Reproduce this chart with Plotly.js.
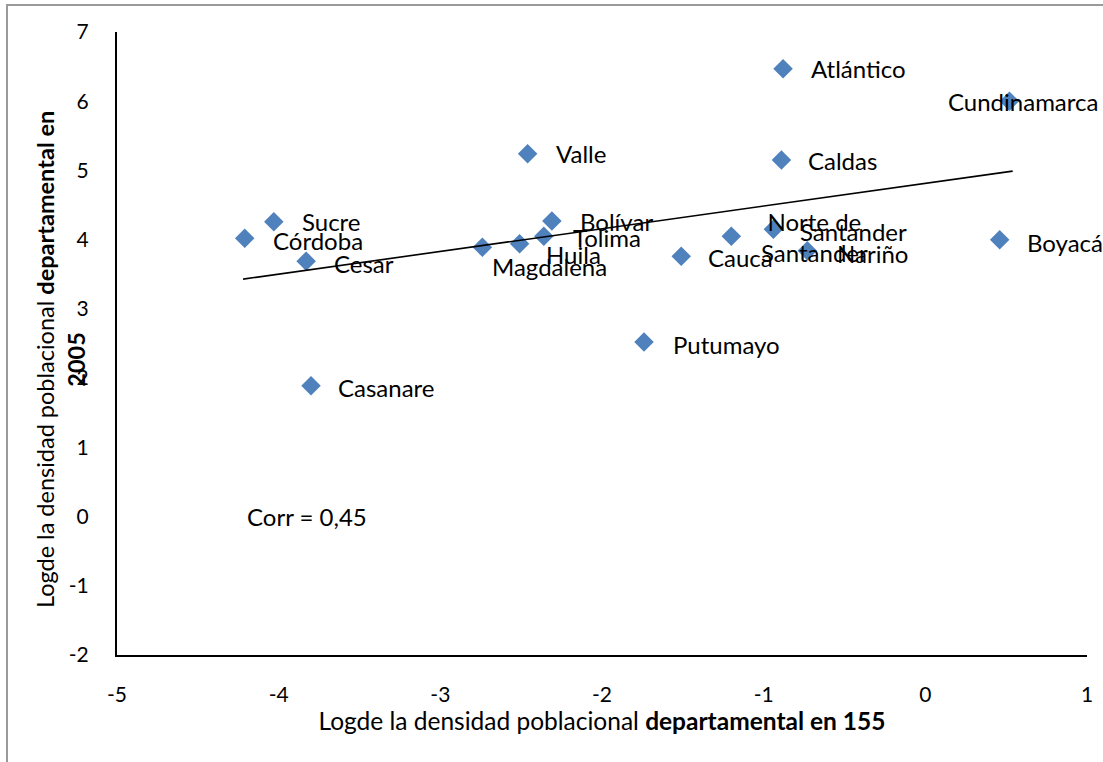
<!DOCTYPE html>
<html>
<head>
<meta charset="utf-8">
<script src="https://cdn.plot.ly/plotly-3.0.1.min.js"></script>
<style>
  html, body { margin: 0; padding: 0; background: #ffffff; }
  #wrap { position: relative; width: 1103px; height: 762px; overflow: hidden; }
  #chart { width: 1103px; height: 762px; }
  #frame { position: absolute; left: 6px; top: 4px; width: 1200px; height: 1000px;
           border-left: 2px solid #9a9a9a; border-top: 2px solid #9a9a9a; pointer-events: none; }
</style>
</head>
<body>
<div id="wrap">
  <div id="chart"></div>
  <div id="frame"></div>
</div>
<script>
// Data
const departamentos = ["Atlántico", "Cundinamarca", "Valle", "Caldas", "Sucre", "Córdoba", "Cesar",
  "Bolívar", "Tolima", "Huila", "Magdalena", "Cauca", "Norte de<br>Santander", "Santander",
  "Nariño", "Boyacá", "Putumayo", "Casanare"];
const logDens155 = [-0.88, 0.52, -2.46, -0.89, -4.03, -4.21, -3.83,
  -2.31, -2.36, -2.51, -2.74, -1.51, -1.20, -0.94,
  -0.73, 0.46, -1.74, -3.80];
const logDens2005 = [6.47, 6.00, 5.24, 5.15, 4.26, 4.02, 3.69,
  4.27, 4.05, 3.94, 3.89, 3.76, 4.05, 4.15,
  3.84, 4.00, 2.52, 1.89];
const trendX = [-4.22, 0.54];
const trendY = [3.43, 4.99];
const corrText = "Corr = 0,45";
const corrX = -4.21;
const corrY = 0;
const xTicks = [-5, -4, -3, -2, -1, 0, 1];
const yTicks = [-2, -1, 0, 1, 2, 3, 4, 5, 6, 7];

// Label placement offsets in pixels (style only)
const labelDX = [26, -63, 26, 25, 26, 26, 26, 26, 27, 24, 8, 25, 28, 25, 28, 25, 27, 25];
const labelDY = [0, 0, 0, 0, 0, 2, 2, 1, 1, 11, 19, 1, 1, 2, 3, 3, 2, 2];

const FONT = "Lato, 'Open Sans', sans-serif";

const traces = [
  {
    type: "scatter", mode: "markers",
    x: logDens155, y: logDens2005,
    marker: { symbol: "diamond", size: 15, color: "#4F81BD", line: { width: 0 } },
    showlegend: false, hoverinfo: "x+y"
  },
  {
    type: "scatter", mode: "lines",
    x: trendX, y: trendY,
    line: { color: "#000000", width: 1.6 },
    showlegend: false, hoverinfo: "skip"
  }
];

const annotations = departamentos.map((name, i) => ({
  x: logDens155[i], y: logDens2005[i], xref: "x", yref: "y",
  text: name, showarrow: false, xanchor: "left", yanchor: "middle",
  align: "center",
  xshift: labelDX[i], yshift: -labelDY[i],
  font: { family: FONT, size: 24, color: "#000000" }
}));

annotations.push({
  x: corrX, y: corrY, xref: "x", yref: "y", text: corrText, showarrow: false,
  xanchor: "left", yanchor: "middle",
  font: { family: FONT, size: 24, color: "#000000" }
});

annotations.push({
  x: (60 - 117) / 970, y: (655 - 360) / 623, xref: "paper", yref: "paper",
  text: "Logde la densidad poblacional <b>departamental en</b><br><b>2005</b>",
  textangle: -90, showarrow: false, xanchor: "center", yanchor: "middle",
  font: { family: FONT, size: 23.5, color: "#000000" }
});

const layout = {
  width: 1103, height: 762,
  margin: { l: 117, r: 16, t: 32, b: 107, autoexpand: false },
  paper_bgcolor: "#ffffff", plot_bgcolor: "#ffffff",
  showlegend: false,
  xaxis: {
    range: [-5, 1], tickvals: xTicks, ticktext: xTicks.map(String),
    showgrid: false, zeroline: false, showline: true, linecolor: "#000000", linewidth: 2,
    ticks: "outside", ticklen: 20, tickcolor: "rgba(0,0,0,0)",
    tickfont: { family: FONT, size: 21, color: "#000000" },
    title: { text: "Logde la densidad poblacional <b>departamental en 155</b>",
             font: { family: FONT, size: 24.5, color: "#000000" }, standoff: 1 },
    automargin: false, fixedrange: true
  },
  yaxis: {
    range: [-2, 7], tickvals: yTicks, ticktext: yTicks.map(String),
    showgrid: false, zeroline: false, showline: true, linecolor: "#000000", linewidth: 2,
    ticks: "outside", ticklen: 22, tickcolor: "rgba(0,0,0,0)",
    tickfont: { family: FONT, size: 21, color: "#000000" },
    automargin: false, fixedrange: true
  },
  annotations: annotations
};

Plotly.newPlot("chart", traces, layout, { displayModeBar: false, staticPlot: true });
</script>
</body>
</html>
